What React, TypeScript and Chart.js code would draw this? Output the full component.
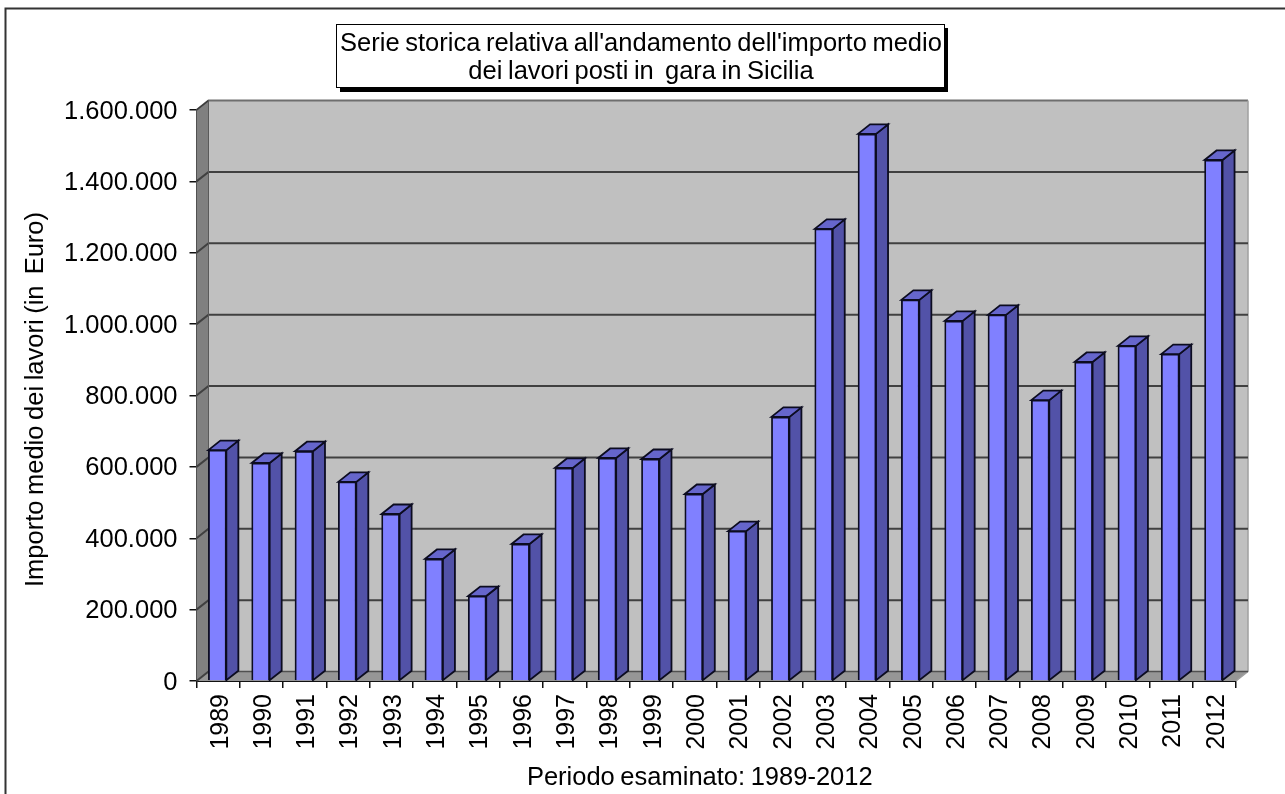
import React, { useEffect, useRef } from "react";
import { Chart, registerables } from "chart.js";

Chart.register(...registerables);

const years = ["1989","1990","1991","1992","1993","1994","1995","1996","1997","1998","1999","2000","2001","2002","2003","2004","2005","2006","2007","2008","2009","2010","2011","2012"];
const importoMedio = [647000,611000,644000,558000,468000,342000,238000,384000,597000,625000,622000,524000,420000,740000,1267000,1533000,1068000,1009000,1026000,787000,894000,939000,916000,1460000];
const titleLines = ["Serie storica relativa all'andamento dell'importo medio", "dei lavori posti in  gara in Sicilia"];
const yTitle = "Importo medio dei lavori (in  Euro)";
const xTitle = "Periodo esaminato: 1989-2012";

const FONT = "'Liberation Sans', Arial, sans-serif";
const DX = 12;
const DY = 9.5;

const poly = (ctx: CanvasRenderingContext2D, pts: number[][], fill: string | null, stroke?: string, lw = 1) => {
  ctx.beginPath();
  pts.forEach((p, i) => (i ? ctx.lineTo(p[0], p[1]) : ctx.moveTo(p[0], p[1])));
  ctx.closePath();
  if (fill) { ctx.fillStyle = fill; ctx.fill(); }
  if (stroke) { ctx.strokeStyle = stroke; ctx.lineWidth = lw; ctx.stroke(); }
};

const scene = {
  id: "scene",
  afterLayout(chart: any) {
    const tb = chart.titleBlock;
    tb.left = 337; tb.right = 945;
    const shift = (scale: any, dx: number, dy: number) => {
      const orig = scale.drawTitle;
      scale.drawTitle = function (...a: any[]) {
        const c = this.ctx; c.save(); c.translate(dx, dy); orig.apply(this, a); c.restore();
      };
    };
    shift(chart.scales.x, -16.5, 0);
    shift(chart.scales.y, 0, 4);
  },
  afterDatasetsUpdate(chart: any) {
    chart.getDatasetMeta(0).data.forEach((el: any) => { el.x -= 0.8; });
  },
  beforeDraw(chart: any) {
    const c: any = chart.ctx;
    c.wordSpacing = "-1.5px";
    c.save();
    c.fillStyle = "#ffffff";
    c.fillRect(0, 0, chart.width, chart.height);
    c.strokeStyle = "#333333"; c.lineWidth = 2;
    c.beginPath(); c.moveTo(5.5, 794); c.lineTo(5.5, 8.5); c.lineTo(1285, 8.5); c.stroke();
    c.fillStyle = "#000000"; c.fillRect(340, 28, 608, 64);
    c.fillStyle = "#ffffff"; c.fillRect(337, 24, 608, 63);
    c.strokeStyle = "#000000"; c.lineWidth = 1; c.strokeRect(336.5, 24.5, 608, 63);
    c.restore();
  },
  beforeDatasetsDraw(chart: any) {
    const c: CanvasRenderingContext2D = chart.ctx;
    const { left: l, right: r, top: t, bottom: b } = chart.chartArea;
    const ys = chart.scales.y;
    c.save();
    poly(c, [[l + DX, t - DY], [r + DX, t - DY], [r + DX, b - DY], [l + DX, b - DY]], "#c0c0c0");
    poly(c, [[l, t], [l + DX, t - DY], [l + DX, b - DY], [l, b]], "#808080");
    poly(c, [[l, b], [l + DX, b - DY], [r + DX, b - DY], [r, b]], "#969696");
    c.strokeStyle = "#6e6e6e"; c.lineWidth = 2;
    c.beginPath(); c.moveTo(l, t); c.lineTo(l + DX, t - DY); c.lineTo(r + DX, t - DY); c.stroke();
    c.strokeStyle = "#a0a0a0"; c.lineWidth = 1.5;
    c.beginPath(); c.moveTo(r + DX, t - DY); c.lineTo(r + DX, b - DY); c.lineTo(r, b); c.stroke();
    c.strokeStyle = "#404040"; c.lineWidth = 2;
    ys.ticks.forEach((tk: any) => {
      if (tk.value === ys.max) return;
      const y = ys.getPixelForValue(tk.value);
      c.beginPath(); c.moveTo(l, y); c.lineTo(l + DX, y - DY);
      if (tk.value > 0) c.lineTo(r + DX, y - DY);
      c.stroke();
    });
    c.strokeStyle = "#3a3a3a"; c.lineWidth = 1.5;
    c.beginPath(); c.moveTo(l, t); c.lineTo(l + DX, t - DY); c.stroke();
    c.beginPath(); c.moveTo(l + DX, b - DY); c.lineTo(r + DX, b - DY); c.strokeStyle = "#505050"; c.lineWidth = 1.5; c.stroke();
    c.beginPath(); c.moveTo(l + DX, t - DY); c.lineTo(l + DX, b - DY); c.strokeStyle = "#5a5a5a"; c.lineWidth = 1; c.stroke();
    chart.getDatasetMeta(0).data.forEach((el: any) => {
      const { x, y, base, width } = el.getProps(["x", "y", "base", "width"], true);
      const a = x - width / 2, e = x + width / 2;
      poly(c, [[e, y], [e + DX, y - DY], [e + DX, base - DY], [e, base]], "#5252a8", "#0c0c20", 1.8);
      poly(c, [[a, y], [a + DX, y - DY], [e + DX, y - DY], [e, y]], "#6666cc", "#0c0c20", 1.8);
    });
    c.restore();
  },
};

export default function App() {
  const ref = useRef<HTMLCanvasElement>(null);
  useEffect(() => {
    const chart = new Chart(ref.current!, {
      type: "bar",
      data: {
        labels: years,
        datasets: [{
          data: importoMedio,
          backgroundColor: "#8080ff",
          borderColor: "#0c0c20",
          borderWidth: 1.8,
          barThickness: 18,
        }],
      },
      options: {
        animation: false,
        responsive: false,
        devicePixelRatio: 1,
        layout: { padding: { left: 0, top: 0, bottom: 0, right: 49 } },
        plugins: {
          legend: { display: false },
          tooltip: { enabled: false },
          title: {
            display: true,
            text: titleLines,
            color: "#000000",
            font: { family: FONT, size: 25.5, weight: "normal", lineHeight: 28 / 25.5 },
            padding: { top: 30, bottom: 24 },
          },
        },
        scales: {
          x: {
            afterFit: (s: any) => { s.height = 113; },
            grid: { drawOnChartArea: false, drawTicks: true, tickLength: 7, color: "#111111", lineWidth: 1.5 },
            border: { color: "#111111", width: 2 },
            ticks: { color: "#000000", font: { family: FONT, size: 25 }, minRotation: 90, maxRotation: 90, autoSkip: false, padding: 6, labelOffset: 2.5 },
            title: { display: true, text: xTitle, color: "#000000", font: { family: FONT, size: 25.5 }, padding: { top: 0, bottom: 1 } },
          },
          y: {
            min: 0,
            max: 1600000,
            afterFit: (s: any) => { s.width = 196.5; },
            grid: { drawOnChartArea: false, drawTicks: true, tickLength: 7, color: "#111111", lineWidth: 1.5 },
            border: { color: "#222222", width: 2 },
            ticks: {
              color: "#000000",
              stepSize: 200000,
              font: { family: FONT, size: 25.5 },
              padding: 12,
              labelOffset: 1.5,
              callback: (v: any) => String(v).replace(/\B(?=(\d{3})+$)/g, "."),
            },
            title: { display: true, text: yTitle, color: "#000000", font: { family: FONT, size: 25.5 }, padding: { top: 21, bottom: 0 } },
          },
        },
      },
      plugins: [scene],
    } as any);
    return () => chart.destroy();
  }, []);
  return (
    <canvas
      ref={ref}
      width={1285}
      height={794}
      style={{ position: "fixed", left: 0, top: 0, width: 1285, height: 794, filter: "blur(0.45px)" }}
    />
  );
}
